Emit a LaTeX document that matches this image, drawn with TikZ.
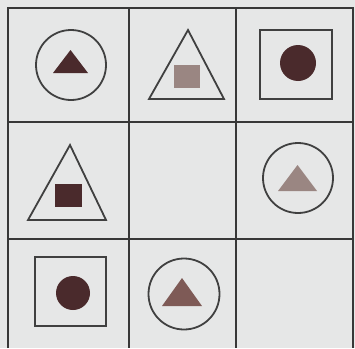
\documentclass[tikz,border=0pt]{standalone}
\begin{document}
\begin{tikzpicture}[x=1pt,y=-1pt,
  gridline/.style={draw=black!78,line width=1.8pt},
  outl/.style={draw=black!75,line width=1.8pt},
  darkfill/.style={fill=darkbrown,draw=none},
  midfill/.style={fill=midbrown,draw=none},
  lightfill/.style={fill=lightbrown,draw=none}]
\definecolor{darkbrown}{HTML}{4A2A2C}
\definecolor{midbrown}{HTML}{7E5A56}
\definecolor{lightbrown}{HTML}{9A8682}
\definecolor{paper}{HTML}{E6E7E7}
\fill[paper] (0,0) rectangle (355,348);
\useasboundingbox (0,0) rectangle (355,348);
% grid
\coordinate (tl) at (8,8);
\coordinate (tr) at (353,8);
\draw[gridline] (8,348) -- (8,8) -- (353,8) -- (353,348);
\draw[gridline] (129,8) -- (129,348);
\draw[gridline] (236,8) -- (236,348);
\draw[gridline] (8,122) -- (353,122);
\draw[gridline] (8,239) -- (353,239);
% cell 1,1: circle with dark triangle
\draw[outl] (71,65) circle (35);
\fill[darkbrown] (53,73) -- (70.5,50) -- (88,73) -- cycle;
% cell 1,2: triangle with light square
\draw[outl] (149,99) -- (188,30) -- (224,99) -- cycle;
\fill[lightbrown] (174,65) rectangle (200,88);
% cell 1,3: square with dark circle
\draw[outl] (260,30) rectangle (332,99);
\fill[darkbrown] (298,63) circle (18);
% cell 2,1: triangle with dark square
\draw[outl] (28,220) -- (70,145) -- (106,220) -- cycle;
\fill[darkbrown] (55,184) rectangle (82,207);
% cell 2,3: circle with light triangle
\draw[outl] (298,178) circle (35);
\fill[lightbrown] (278,191) -- (297.5,165) -- (317,191) -- cycle;
% cell 3,1: square with dark circle
\draw[outl] (35,257) rectangle (106,326);
\fill[darkbrown] (73,293) circle (17);
% cell 3,2: circle with mid triangle
\draw[outl] (184,294) circle (35.5);
\fill[midbrown] (162,306) -- (182,278) -- (202,306) -- cycle;
\end{tikzpicture}
\end{document}
